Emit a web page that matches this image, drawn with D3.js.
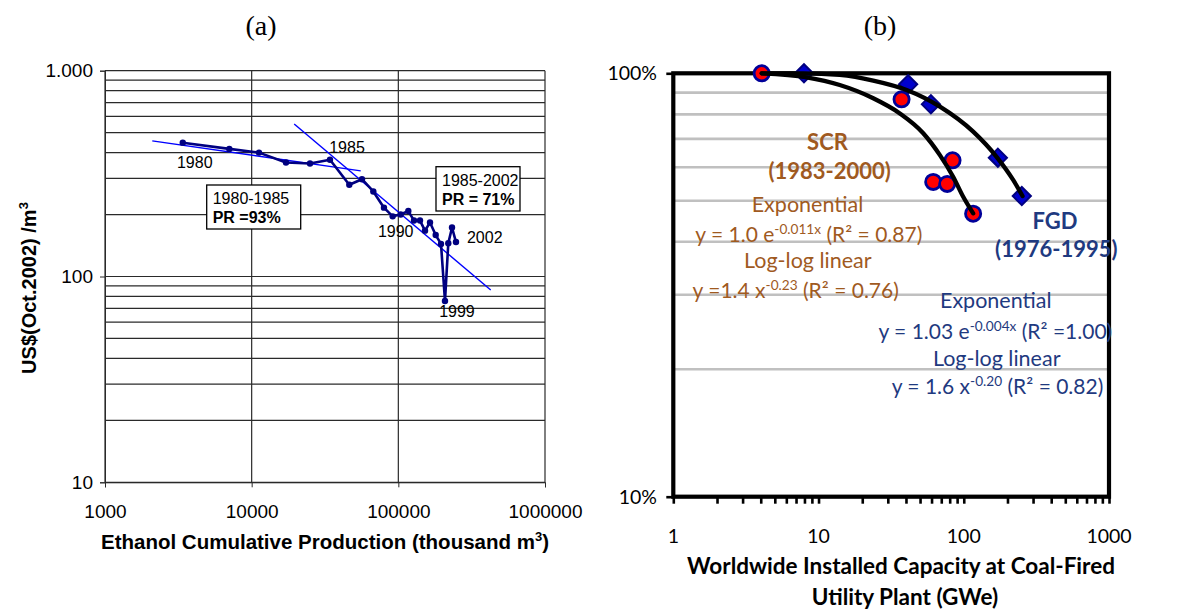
<!DOCTYPE html>
<html><head><meta charset="utf-8">
<script src="https://cdn.jsdelivr.net/npm/d3@7"></script>
<style>body{margin:0;background:#fff}</style>
</head><body>
<svg id="chart" width="1180" height="612" xmlns="http://www.w3.org/2000/svg"></svg>
<script>
// ---------------- DATA (a) Ethanol ----------------
const ethanolYears = [1980,1981,1982,1983,1984,1985,1986,1987,1988,1989,1990,1991,1992,1993,1994,1995,1996,1997,1998,1999,2000,2001,2002];
const ethanolProduction = [3390,7040,11220,17140,24990,34200,46300,56500,67500,79800,91500,103800,117000,127900,140500,152000,164400,179800,195400,208000,219100,232300,247200];
const ethanolCost = [447,417,400,358,354,369,279,297,259,216,196,200,208,187,187,167,183,159,144,76,145,173,147];
const trend1980X = [2100, 55400];
const trend1980Y = [456, 326];
const trend1985X = [19500, 426500];
const trend1985Y = [551, 86];
const leftXTicks = [1000, 10000, 100000, 1000000];
const leftXTickLabels = ["1000", "10000", "100000", "1000000"];
const leftYTicks = [10, 100, 1000];
const leftYTickLabels = ["10", "100", "1.000"];
const labeledYears = [1980, 1985, 1990, 1999, 2002];

// ---------------- DATA (b) SCR / FGD ----------------
const scrCapacity = [4.06, 37.3, 83.7, 61.6, 76.9, 116];
const scrCost = [1.0, 0.868, 0.623, 0.554, 0.548, 0.466];
const fgdCapacity = [7.94, 41.4, 59.4, 171.7, 251];
const fgdCost = [1.0, 0.942, 0.845, 0.632, 0.513];
const scrFitX = [4.06, 8.28, 14.0, 23.8, 36.3, 52.6, 68.5, 84.5, 99.1, 116.1];
const scrFitY = [1.0, 0.978, 0.938, 0.873, 0.804, 0.722, 0.641, 0.570, 0.511, 0.467];
const fgdFitX = [4.06, 7.85, 14.0, 23.8, 40.4, 68.5, 116.1, 168.2, 218.8, 253.9];
const fgdFitY = [1.0, 1.0, 0.991, 0.961, 0.913, 0.834, 0.728, 0.635, 0.560, 0.513];
const rightXTicks = [1, 10, 100, 1000];
const rightXTickLabels = ["1", "10", "100", "1000"];
const rightYTicks = [0.1, 1];
const rightYTickLabels = ["10%", "100%"];

// ---------------- DRAW ----------------
const svg = d3.select("#chart");
svg.append("rect").attr("width",1180).attr("height",612).attr("fill","#fff");

const SANS = "'Liberation Sans', Arial, Helvetica, sans-serif";
const CAL = "Lato, 'Open Sans', sans-serif";

// ===== Panel (a) =====
const L = {x0:105, x1:545, y0:70.7, y1:482.3};
const xL = d3.scaleLog().domain([1000, 1000000]).range([L.x0, L.x1]);
const yL = d3.scaleLog().domain([10, 1000]).range([L.y1, L.y0]);
const gA = svg.append("g").attr("font-family", SANS);

gA.append("g").selectAll("line").data(yL.ticks()).join("line")
  .attr("x1", L.x0).attr("x2", L.x1)
  .attr("y1", d => yL(d)).attr("y2", d => yL(d))
  .attr("stroke", "#2a2a2a").attr("stroke-width", 1.2);
gA.append("g").selectAll("line").data(leftXTicks).join("line")
  .attr("x1", d => xL(d)).attr("x2", d => xL(d))
  .attr("y1", L.y0).attr("y2", L.y1)
  .attr("stroke", "#2a2a2a").attr("stroke-width", 1.2);

const axL = gA.append("g").attr("transform", `translate(${L.x0},0)`)
  .call(d3.axisLeft(yL).tickValues(leftYTicks).tickFormat((d,i)=>leftYTickLabels[i]).tickSize(5).tickPadding(7));
axL.selectAll("text").attr("font-size", 19).attr("font-family", SANS).attr("fill","#000");
axL.selectAll("line,path").attr("stroke", "#2a2a2a");
const axB = gA.append("g").attr("transform", `translate(0,${L.y1})`)
  .call(d3.axisBottom(xL).tickValues(leftXTicks).tickFormat((d,i)=>leftXTickLabels[i]).tickSize(5).tickPadding(17));
axB.selectAll("text").attr("font-size", 19).attr("font-family", SANS).attr("fill","#000");
axB.selectAll("line,path").attr("stroke", "#2a2a2a");

const pts = (xs, ys) => xs.map((x,i)=>[x, ys[i]]);
const lineL = d3.line().x(d => xL(d[0])).y(d => yL(d[1]));
[[trend1980X, trend1980Y],[trend1985X, trend1985Y]].forEach(([xs,ys]) => {
  gA.append("path").attr("d", lineL(pts(xs,ys))).attr("fill","none")
    .attr("stroke", "#0000ff").attr("stroke-width", 1.4);
});

const ethPts = pts(ethanolProduction, ethanolCost);
gA.append("path").attr("d", lineL(ethPts)).attr("fill","none")
  .attr("stroke", "#000080").attr("stroke-width", 2.6).attr("stroke-linejoin","round");
gA.append("g").selectAll("circle").data(ethPts).join("circle")
  .attr("cx", d => xL(d[0])).attr("cy", d => yL(d[1])).attr("r", 3.2).attr("fill", "#000080");

const yearOffsets = {1980:[12,25,"middle"],1985:[17,-7,"middle"],1990:[3,21,"middle"],1999:[12,16,"middle"],2002:[11,1,"start"]};
labeledYears.forEach(y => {
  const i = ethanolYears.indexOf(y);
  const o = yearOffsets[y];
  gA.append("text").attr("x", xL(ethanolProduction[i]) + o[0]).attr("y", yL(ethanolCost[i]) + o[1])
    .attr("text-anchor", o[2]).attr("font-size", 16).text(y);
});

function prBox(x, y, w, h, l1, l2) {
  const g = gA.append("g");
  g.append("rect").attr("x", x).attr("y", y).attr("width", w).attr("height", h)
    .attr("fill", "#fff").attr("stroke", "#000").attr("stroke-width", 1.3);
  g.append("text").attr("x", x + 6).attr("y", y + 19).attr("font-size", 16).text(l1);
  g.append("text").attr("x", x + 6).attr("y", y + 38).attr("font-size", 16).attr("font-weight", "bold").text(l2);
}
prBox(206.7, 185, 94, 44, "1980-1985", "PR =93%");
prBox(436, 166.7, 84, 44.3, "1985-2002", "PR = 71%");

const yt = gA.append("text").attr("transform", "translate(36,288) rotate(-90)")
  .attr("text-anchor", "middle").attr("font-size", 20).attr("font-weight", "bold");
yt.append("tspan").text("US$(Oct.2002) /m");
yt.append("tspan").attr("dy", -8).attr("font-size", 13).text("3");
const xt = gA.append("text").attr("x", 325).attr("y", 549)
  .attr("text-anchor", "middle").attr("font-size", 20.5).attr("font-weight", "bold");
xt.append("tspan").text("Ethanol Cumulative Production (thousand m");
xt.append("tspan").attr("dy", -8).attr("font-size", 13).text("3");
xt.append("tspan").attr("dy", 8).text(")");

// ===== Panel (b) =====
const R = {x0:673.3, x1:1109, y0:73.3, y1:496.7};
const xR = d3.scaleLog().domain([1, 1000]).range([R.x0, R.x1]);
const yR = d3.scaleLog().domain([0.1, 1]).range([R.y1, R.y0]);
const gB = svg.append("g").attr("font-family", CAL);

gB.append("g").selectAll("line").data(yR.ticks().filter(d => d > 0.1 + 1e-9 && d < 1 - 1e-9)).join("line")
  .attr("x1", R.x0).attr("x2", R.x1).attr("y1", d => yR(d)).attr("y2", d => yR(d))
  .attr("stroke", "#c0c0c0").attr("stroke-width", 2.6);

const axRB = gB.append("g").attr("transform", `translate(0,${R.y1})`)
  .call(d3.axisBottom(xR).tickValues(xR.ticks()).tickFormat("").tickSize(7));
axRB.select(".domain").remove();
axRB.selectAll("line").attr("stroke", "#000").attr("stroke-width", 2.6);
gB.append("g").selectAll("text").data(rightXTicks).join("text")
  .attr("x", d => xR(d)).attr("y", 543).attr("text-anchor", "middle")
  .attr("font-size", 19.5).attr("fill", "#000").text((d,i) => rightXTickLabels[i]);
const axRL = gB.append("g").attr("transform", `translate(${R.x0},0)`)
  .call(d3.axisLeft(yR).tickValues(rightYTicks).tickFormat("").tickSize(7));
axRL.select(".domain").remove();
axRL.selectAll("line").attr("stroke", "#000").attr("stroke-width", 2.6);
gB.append("g").selectAll("text").data(rightYTicks).join("text")
  .attr("x", 657).attr("y", d => yR(d) + 7).attr("text-anchor", "end")
  .attr("font-size", 19.5).attr("fill", "#000").text((d,i) => rightYTickLabels[i]);

gB.append("rect").attr("x", R.x0).attr("y", R.y0).attr("width", R.x1 - R.x0).attr("height", R.y1 - R.y0)
  .attr("fill", "none").attr("stroke", "#000").attr("stroke-width", 4.2);

const scrPts = pts(scrCapacity, scrCost);
const fgdPts = pts(fgdCapacity, fgdCost);
gB.append("g").selectAll("path").data(fgdPts).join("path")
  .attr("d", d3.symbol(d3.symbolSquare, 165))
  .attr("transform", d => `translate(${xR(d[0])},${yR(d[1])}) rotate(45)`)
  .attr("fill", "#0000cc").attr("stroke", "#000080").attr("stroke-width", 2);
gB.append("g").selectAll("circle").data(scrPts).join("circle")
  .attr("cx", d => xR(d[0])).attr("cy", d => yR(d[1])).attr("r", 7.6)
  .attr("fill", "#ff0000").attr("stroke", "#000099").attr("stroke-width", 2.8);

const lineR = d3.line().x(d => xR(d[0])).y(d => yR(d[1])).curve(d3.curveMonotoneX);
[[scrFitX, scrFitY],[fgdFitX, fgdFitY]].forEach(([xs,ys]) => {
  gB.append("path").attr("d", lineR(pts(xs,ys))).attr("fill","none")
    .attr("stroke", "#000").attr("stroke-width", 4.3).attr("stroke-linecap","round");
});

const BROWN = "#a05a1f", NAVY = "#1f3a80";
function note(x, y, parts, color, size, weight) {
  const t = gB.append("text").attr("x", x).attr("y", y).attr("text-anchor", "middle")
    .attr("fill", color).attr("font-size", size).attr("font-weight", weight || "normal");
  let shift = 0;
  parts.forEach(p => {
    if (typeof p === "string") {
      const s = t.append("tspan").text(p);
      if (shift) { s.attr("dy", -shift); shift = 0; }
    } else {
      t.append("tspan").attr("dy", -8).attr("font-size", size * 0.65).text(p.sup);
      shift = -8;
    }
  });
}
note(827.5, 150, ["SCR"], BROWN, 22, "bold");
note(829.7, 179, ["(1983-2000)"], BROWN, 22, "bold");
note(807.5, 212, ["Exponential"], BROWN, 21.5);
note(808.8, 241.5, ["y = 1.0 e", {sup:"-0.011x"}, " (R\u00B2 = 0.87)"], BROWN, 21);
note(807.8, 268, ["Log-log linear"], BROWN, 21.5);
note(795.7, 297.5, ["y =1.4 x", {sup:"-0.23"}, " (R\u00B2 = 0.76)"], BROWN, 21);
note(1055, 229, ["FGD"], NAVY, 22, "bold");
note(1056.3, 257, ["(1976-1995)"], NAVY, 22, "bold");
note(995.8, 307.5, ["Exponential"], NAVY, 21.5);
note(995.3, 338.5, ["y = 1.03 e", {sup:"-0.004x"}, " (R\u00B2 =1.00)"], NAVY, 21);
note(996.7, 365.5, ["Log-log linear"], NAVY, 21.5);
note(997.5, 393.5, ["y = 1.6 x", {sup:"-0.20"}, " (R\u00B2 = 0.82)"], NAVY, 21);

gB.append("text").attr("x", 901).attr("y", 574).attr("text-anchor", "middle")
  .attr("font-size", 22.5).attr("font-weight", "bold").attr("fill", "#000")
  .text("Worldwide Installed Capacity at Coal-Fired");
gB.append("text").attr("x", 905).attr("y", 605).attr("text-anchor", "middle")
  .attr("font-size", 22.5).attr("font-weight", "bold").attr("fill", "#000")
  .text("Utility Plant (GWe)");

svg.append("text").attr("x", 261).attr("y", 35).attr("text-anchor", "middle")
  .attr("font-family", "'Liberation Serif', 'Times New Roman', serif").attr("font-size", 28).text("(a)");
svg.append("text").attr("x", 880).attr("y", 35).attr("text-anchor", "middle")
  .attr("font-family", "'Liberation Serif', 'Times New Roman', serif").attr("font-size", 28).text("(b)");
</script>
</body></html>
